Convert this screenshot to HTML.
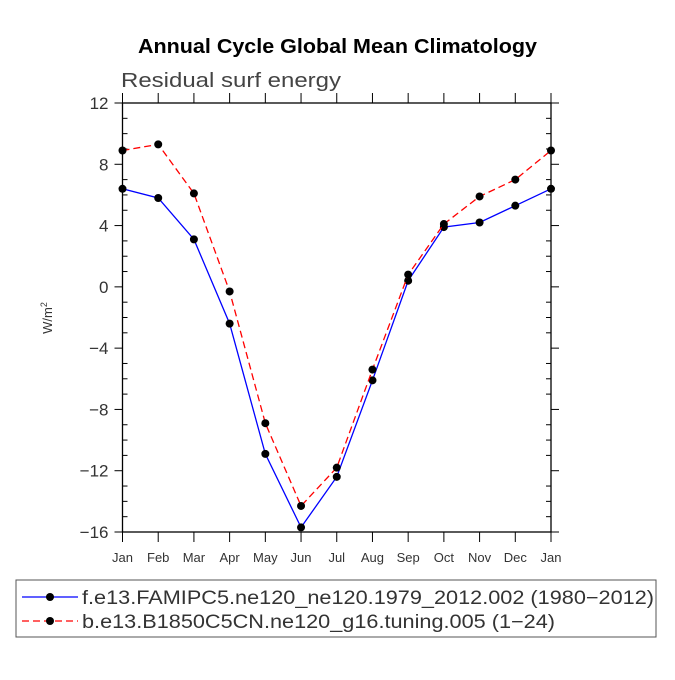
<!DOCTYPE html>
<html><head><meta charset="utf-8"><style>
body{margin:0;background:#fff;}
svg text{font-family:"Liberation Sans",sans-serif;}
</style></head><body>
<svg id="chart" width="675" height="675" viewBox="0 0 675 675" xmlns="http://www.w3.org/2000/svg">
<text x="138" y="53" font-size="20" font-weight="bold" textLength="399" lengthAdjust="spacingAndGlyphs">Annual Cycle Global Mean Climatology</text>
<text x="121" y="87" font-size="20" fill="#444" textLength="220" lengthAdjust="spacingAndGlyphs">Residual surf energy</text>
<text transform="translate(52,318) rotate(-90)" text-anchor="middle" font-size="13" fill="#333">W/m<tspan dy="-5" font-size="9">2</tspan></text>
<g id="axes"></g>
<g id="series"></g>
<rect x="16" y="580" width="640" height="57" fill="none" stroke="#555" stroke-width="1"/>
<g>
<line x1="22" y1="597" x2="78" y2="597" stroke="blue" stroke-width="1.3"/><circle cx="50" cy="597" r="4" fill="#000"/>
<text x="82" y="604" font-size="19" fill="#333" textLength="572" lengthAdjust="spacingAndGlyphs">f.e13.FAMIPC5.ne120_ne120.1979_2012.002 (1980−2012)</text></g>
<g>
<line x1="22" y1="621" x2="78" y2="621" stroke="red" stroke-width="1.3" stroke-dasharray="7,4"/><circle cx="50" cy="621" r="4" fill="#000"/>
<text x="82" y="628" font-size="19" fill="#333" textLength="473" lengthAdjust="spacingAndGlyphs">b.e13.B1850C5CN.ne120_g16.tuning.005 (1−24)</text></g>
</svg>
<script>
const months=["Jan","Feb","Mar","Apr","May","Jun","Jul","Aug","Sep","Oct","Nov","Dec","Jan"];
const yTicks=[12,8,4,0,-4,-8,-12,-16];
const blueVals=[6.4,5.8,3.1,-2.4,-10.9,-15.7,-12.4,-6.1,0.4,3.9,4.2,5.3,6.4];
const redVals=[8.9,9.3,6.1,-0.3,-8.9,-14.3,-11.8,-5.4,0.8,4.1,5.9,7.0,8.9];
const L=122.5,R=551,T=103,B=532,ymin=-16,ymax=12;
const xs=i=>L+(R-L)*i/12;
const ys=v=>B-(v-ymin)/(ymax-ymin)*(B-T);
const NS="http://www.w3.org/2000/svg";
function mk(tag,attrs,parent){const e=document.createElementNS(NS,tag);for(const k in attrs)e.setAttribute(k,attrs[k]);parent.appendChild(e);return e;}
const ax=document.getElementById('axes');
const frame=mk('rect',{x:L,y:T,width:R-L,height:B-T,fill:'none',stroke:'#000','stroke-width':1.3},ax);


for(let v=ymin;v<=ymax;v++){
  const y=ys(v);const major=yTicks.includes(v);
  if(major){mk('line',{x1:L-8,y1:y,x2:L,y2:y,stroke:'#000'},ax);mk('line',{x1:R,y1:y,x2:R+8,y2:y,stroke:'#000'},ax);
    const t=mk('text',{x:L-14,y:y+6,'text-anchor':'end','font-size':17,fill:'#333'},ax);t.textContent=v<0?'−'+(-v):v;
    
    
  }else{mk('line',{x1:L,y1:y,x2:L+5,y2:y,stroke:'#000'},ax);mk('line',{x1:R-5,y1:y,x2:R,y2:y,stroke:'#000'},ax);}
}
months.forEach((m,i)=>{const x=xs(i);
  mk('line',{x1:x,y1:T-10,x2:x,y2:T,stroke:'#000'},ax);mk('line',{x1:x,y1:B,x2:x,y2:B+10,stroke:'#000'},ax);
  const t=mk('text',{x:x,y:B+30,'text-anchor':'middle','font-size':13,fill:'#333'},ax);t.textContent=m;
  
  
});
const sg=document.getElementById('series');
function draw(vals,color,dash,name){
  const p=mk('polyline',{points:vals.map((v,i)=>xs(i)+','+ys(v)).join(' '),fill:'none',stroke:color,'stroke-width':1.3,'stroke-dasharray':dash},sg);
  
  
  vals.forEach((v,i)=>{const c=mk('circle',{cx:xs(i),cy:ys(v),r:4,fill:'#000'},sg);
    
    });
}
draw(blueVals,'blue','none','famip');
draw(redVals,'red','7,4','b1850');
</script>
</body></html>
